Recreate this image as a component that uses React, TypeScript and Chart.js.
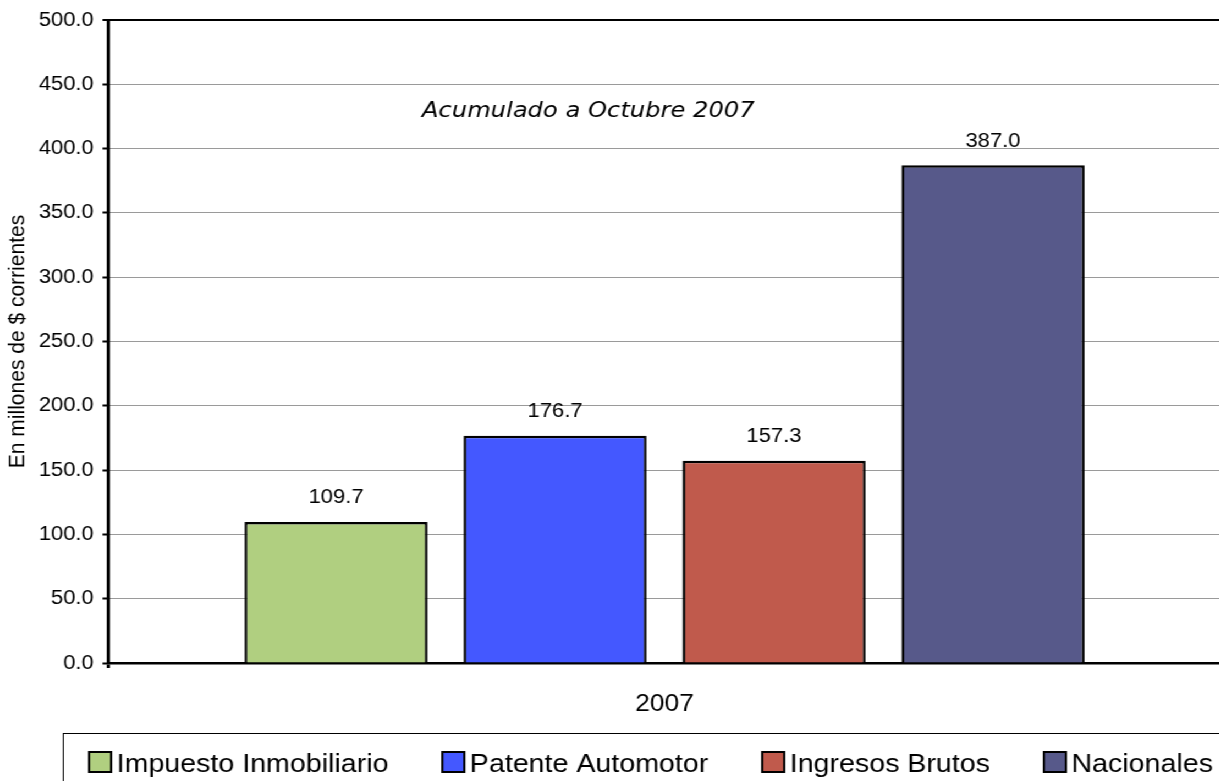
import React, { useEffect, useRef } from "react";
import { Chart, registerables } from "chart.js";

Chart.register(...registerables);

const categories = ["2007"];
const seriesNames = ["Impuesto Inmobiliario", "Patente Automotor", "Ingresos Brutos", "Nacionales"];
const impuestoInmobiliario = [109.7];
const patenteAutomotor = [176.7];
const ingresosBrutos = [157.3];
const nacionales = [387.0];
const seriesValues = [impuestoInmobiliario, patenteAutomotor, ingresosBrutos, nacionales];
const seriesColors = ["#B0CF80", "#4458FF", "#C05A4C", "#57598A"];
const yMin = 0;
const yMax = 500;
const yStep = 50;
const chartNote = "Acumulado a Octubre 2007";
const yAxisTitle = "En millones de $ corrientes";

const FONT = '"Liberation Sans", Arial, Helvetica, sans-serif';

const valueLabelsPlugin = {
  id: "valueLabels",
  afterDatasetsDraw(chart: any) {
    const ctx = chart.ctx;
    ctx.save();
    ctx.font = `20px ${FONT}`;
    ctx.fillStyle = "#000";
    ctx.textAlign = "center";
    ctx.textBaseline = "middle";
    chart.data.datasets.forEach((ds: any, i: number) => {
      const meta = chart.getDatasetMeta(i);
      meta.data.forEach((el: any, j: number) => {
        const v = ds.data[j];
        ctx.fillText(Number(v).toFixed(1), el.x, el.y - 24);
      });
    });
    ctx.restore();
  },
};

const notePlugin = {
  id: "note",
  afterDraw(chart: any) {
    const { ctx, chartArea } = chart;
    const w = chartArea.right - chartArea.left;
    const h = chartArea.bottom - chartArea.top;
    ctx.save();
    ctx.font = `italic 22px "Comic Sans MS", "DejaVu Sans", sans-serif`;
    ctx.fillStyle = "#000";
    ctx.textAlign = "center";
    ctx.textBaseline = "middle";
    ctx.fillText(chartNote, chartArea.left + 0.4315 * w, chartArea.top + 0.1426 * h);
    ctx.restore();
  },
};

const legendBoxPlugin = {
  id: "legendBox",
  afterDraw(chart: any) {
    const ctx = chart.ctx;
    const top = chart.height - 48;
    ctx.save();
    ctx.strokeStyle = "#000";
    ctx.lineWidth = 1;
    ctx.strokeRect(57.5, top + 0.5, chart.width + 20, 100);
    ctx.font = `26px ${FONT}`;
    ctx.textAlign = "left";
    ctx.textBaseline = "alphabetic";
    let x = 81;
    const boxTop = top + 19;
    chart.data.datasets.forEach((ds: any) => {
      ctx.fillStyle = ds.backgroundColor;
      ctx.fillRect(x, boxTop, 20, 20);
      ctx.lineWidth = 2;
      ctx.strokeStyle = "#000";
      ctx.strokeRect(x, boxTop, 20, 20);
      ctx.fillStyle = "#000";
      ctx.fillText(ds.label, x + 25, top + 39);
      x += 25 + ctx.measureText(ds.label).width + 49;
    });
    ctx.restore();
  },
};

export default function App() {
  const canvasRef = useRef<HTMLCanvasElement | null>(null);

  useEffect(() => {
    if (!canvasRef.current) return;
    const chart = new Chart(canvasRef.current, {
      type: "bar",
      data: {
        labels: categories,
        datasets: seriesNames.map((name, i) => ({
          label: name,
          data: seriesValues[i],
          backgroundColor: seriesColors[i],
          borderColor: "#000",
          borderWidth: 2.5,
          categoryPercentage: 0.787,
          barPercentage: 0.836,
        })),
      },
      options: {
        animation: false,
        responsive: true,
        maintainAspectRatio: false,
        layout: { padding: { top: 18, right: 20, bottom: 48, left: 0 } },
        plugins: {
          legend: { display: false },
          title: { display: false },
          tooltip: { enabled: false },
        },
        scales: {
          x: {
            grid: {
              display: true,
              drawOnChartArea: false,
              drawTicks: true,
              tickLength: 5,
              tickColor: "#000",
              tickWidth: 3,
              offset: true,
            },
            border: { display: true, color: "#000", width: 2.5 },
            ticks: { color: "#000", font: { family: FONT, size: 24 }, padding: 22 },
            afterFit: (s: any) => {
              s.height = 70;
            },
          },
          y: {
            min: yMin,
            max: yMax,
            ticks: {
              stepSize: yStep,
              callback: (v: any) => Number(v).toFixed(1),
              color: "#000",
              font: { family: FONT, size: 20 },
              padding: 8,
            },
            grid: {
              color: (c: any) => (c.tick && c.tick.value === yMax ? "#000" : "#9a9a9a"),
              lineWidth: (c: any) => (c.tick && c.tick.value === yMax ? 2 : 1),
              tickColor: "#000",
              tickLength: 5,
              tickWidth: 2,
            },
            border: { display: true, color: "#000", width: 3 },
            title: {
              display: true,
              text: yAxisTitle,
              color: "#000",
              font: { family: FONT, size: 21 },
              padding: { top: 4, bottom: 0 },
            },
            afterFit: (s: any) => {
              s.width = 98.2;
            },
          },
        },
      } as any,
      plugins: [valueLabelsPlugin, notePlugin, legendBoxPlugin],
    });
    return () => chart.destroy();
  }, []);

  return (
    <div
      style={{
        position: "fixed",
        left: 0,
        top: 0,
        width: "1130px",
        height: "781px",
        transform: "scaleX(1.1)",
        transformOrigin: "0 0",
        background: "#fff",
      }}
    >
      <canvas ref={canvasRef} />
    </div>
  );
}
